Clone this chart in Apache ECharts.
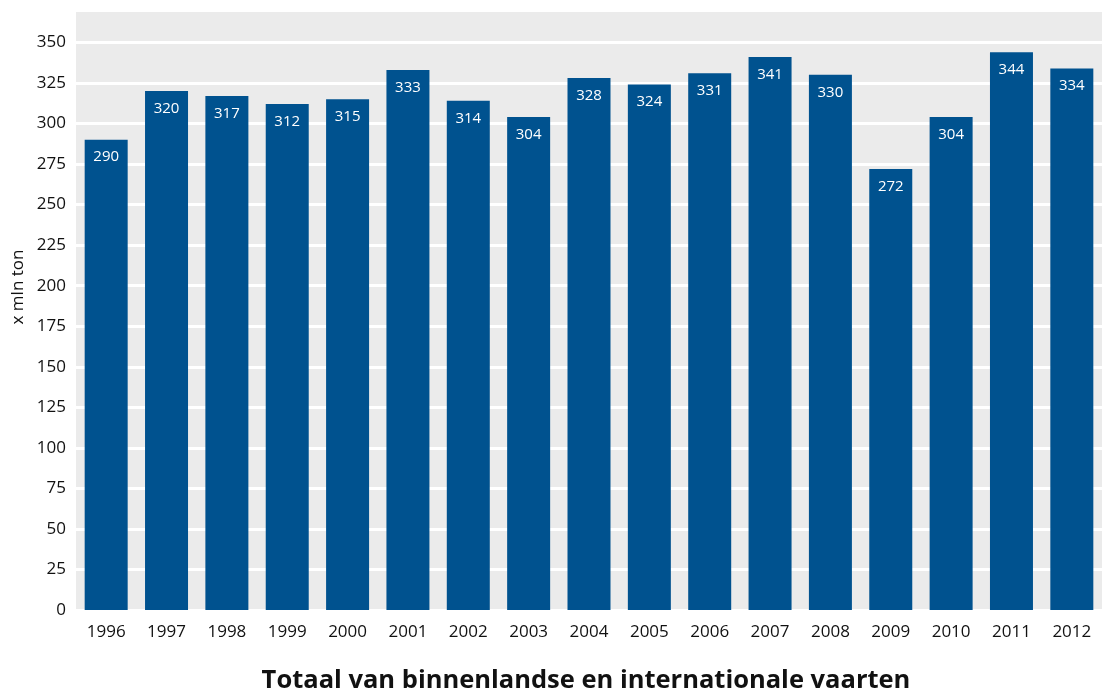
<!DOCTYPE html>
<html>
<head>
<meta charset="utf-8">
<script src="https://cdn.jsdelivr.net/npm/echarts@6/dist/echarts.min.js"></script>
<style>
    html, body { margin: 0; padding: 0; background: #fff; }
    #chart { width: 1102px; height: 693px; }
</style>
</head>
<body>
<div id="chart"></div>
<script>
const years = ['1996', '1997', '1998', '1999', '2000', '2001', '2002', '2003', '2004',
    '2005', '2006', '2007', '2008', '2009', '2010', '2011', '2012'];
const tonnage = [290, 320, 317, 312, 315, 333, 314, 304, 328, 324, 331, 341, 330, 272, 304, 344, 334];
const chartTitle = 'Totaal van binnenlandse en internationale vaarten';
const yAxisName = 'x mln ton';

(function () {
    const chart = echarts.init(document.getElementById('chart'));
    const font = '"Open Sans", "Noto Sans", sans-serif';
    const option = {
        animation: false,
        textStyle: { fontFamily: font },
        grid: {
            left: 76,
            right: 0,
            top: 10,
            bottom: 83,
            show: true,
            backgroundColor: '#ebebeb',
            borderWidth: 0
        },
        // titles drawn as graphics: the chart title is centred on the plot, not the page
        graphic: [{
            type: 'text',
            x: 18,
            y: 287,
            rotation: Math.PI / 2,
            style: {
                text: yAxisName,
                fontFamily: font,
                fontSize: 17,
                fill: '#111',
                align: 'center',
                verticalAlign: 'middle'
            }
        }, {
            type: 'text',
            x: 586,
            y: 681,
            style: {
                text: chartTitle,
                fontFamily: font,
                fontSize: 25.5,
                fontWeight: 'bold',
                fill: '#111',
                align: 'center',
                verticalAlign: 'middle'
            }
        }],
        xAxis: {
            type: 'category',
            data: years,
            axisLine: { show: false },
            axisTick: { show: false },
            axisLabel: { color: '#111', fontSize: 17, margin: 14 }
        },
        yAxis: {
            type: 'value',
            min: 0,
            max: 370,
            interval: 25,
            axisLine: { show: false },
            axisTick: { show: false },
            axisLabel: {
                color: '#111',
                fontSize: 17,
                margin: 10,
                formatter: function (v) { return v > 350 ? '' : v; }
            },
            splitLine: { lineStyle: { color: '#ffffff', width: 3 } }
        },
        series: [{
            type: 'bar',
            data: tonnage,
            barWidth: 43,
            itemStyle: { color: '#00528f' },
            label: {
                show: true,
                position: 'insideTop',
                distance: 10,
                color: '#ffffff',
                fontSize: 15
            }
        }]
    };
    chart.setOption(option);
})();
</script>
</body>
</html>
